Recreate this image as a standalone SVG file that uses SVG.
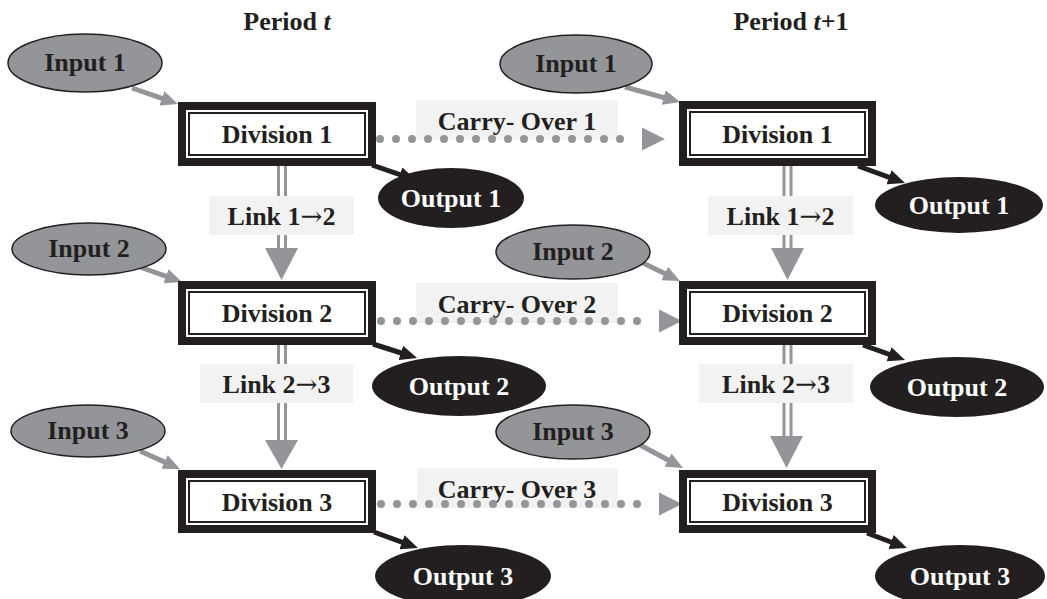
<svg xmlns="http://www.w3.org/2000/svg" width="1047" height="599" viewBox="0 0 1047 599">
  <defs>
    <style>
      text { font-family: "Liberation Serif", "Times New Roman", serif; font-weight: bold; font-size: 26px; text-anchor: middle; }
      .arrow { font-family: "DejaVu Serif", "Liberation Serif", serif; font-weight: normal; }
      .dark { fill: #231f20; }
      .light { fill: #ffffff; }
      .frame-outer { fill: #ffffff; stroke: #231f20; stroke-width: 8; }
      .frame-inner { fill: none; stroke: #231f20; stroke-width: 2; }
      .input { fill: #939598; stroke: #231f20; stroke-width: 1.5; }
      .output { fill: #231f20; }
      .feed { stroke: #939598; stroke-width: 5; fill: none; marker-end: url(#headGray); }
      .emit { stroke: #231f20; stroke-width: 5; fill: none; marker-end: url(#headDark); }
      .carry { stroke: #939598; stroke-width: 8; stroke-linecap: round; stroke-dasharray: 0 16; fill: none; marker-end: url(#headCarry); }
      .link { stroke: #939598; stroke-width: 3; fill: none; }
      .linkhead { fill: #939598; }
      .tag { fill: #f2f2f2; }
    </style>
    <marker id="headGray" markerUnits="userSpaceOnUse" markerWidth="17" markerHeight="15" refX="7" refY="7.5" orient="auto">
      <path d="M0,0 L17,7.5 L0,15 z" fill="#939598"/>
    </marker>
    <marker id="headDark" markerUnits="userSpaceOnUse" markerWidth="17" markerHeight="15" refX="7" refY="7.5" orient="auto">
      <path d="M0,0 L17,7.5 L0,15 z" fill="#231f20"/>
    </marker>
    <marker id="headCarry" markerUnits="userSpaceOnUse" markerWidth="24" markerHeight="23" refX="-6" refY="11.5" orient="auto" overflow="visible">
      <path d="M0,0 L23,11.5 L0,23 z" fill="#939598"/>
    </marker>
  </defs>

  <!-- column headings -->
  <text class="dark" x="287" y="30">Period <tspan font-style="italic">t</tspan></text>
  <text class="dark" x="791" y="30">Period <tspan font-style="italic">t</tspan>+1</text>

  <g id="connectors">
    <!-- inputs into divisions -->
    <path class="feed" d="M132,88 L168.5,100.7"/>
    <path class="feed" d="M140,267 L172.6,278.6"/>
    <path class="feed" d="M140,451 L170.9,464.9"/>
    <path class="feed" d="M625,87 L670.4,99.4"/>
    <path class="feed" d="M643,263 L671,276.6"/>
    <path class="feed" d="M640,445 L674.2,463.3"/>

    <!-- divisions to outputs -->
    <path class="emit" d="M372,165 L406.5,176.8"/>
    <path class="emit" d="M373,344 L407.5,355"/>
    <path class="emit" d="M374,532 L408.6,544.6"/>
    <path class="emit" d="M858,166 L895.6,179.6"/>
    <path class="emit" d="M863,345 L895.6,356.6"/>
    <path class="emit" d="M867,533 L897.6,544.5"/>

    <!-- links between divisions -->
    <g id="link-t-12">
      <line class="link" x1="278.5" y1="166" x2="278.5" y2="249"/>
      <line class="link" x1="285.5" y1="166" x2="285.5" y2="249"/>
      <polygon class="linkhead" points="265,248 298,248 281.5,280"/>
      <rect class="tag" x="209" y="196" width="145" height="39"/>
      <text class="dark" x="281.5" y="225">Link 1<tspan class="arrow">→</tspan>2</text>
    </g>
    <g id="link-t-23">
      <line class="link" x1="278.5" y1="345" x2="278.5" y2="441"/>
      <line class="link" x1="285.5" y1="345" x2="285.5" y2="441"/>
      <polygon class="linkhead" points="265,440 298,440 281.5,469"/>
      <rect class="tag" x="200" y="364" width="153" height="39"/>
      <text class="dark" x="276.5" y="393">Link 2<tspan class="arrow">→</tspan>3</text>
    </g>
    <g id="link-t1-12">
      <line class="link" x1="784" y1="166" x2="784" y2="249"/>
      <line class="link" x1="791" y1="166" x2="791" y2="249"/>
      <polygon class="linkhead" points="771,248 804,248 787.5,280"/>
      <rect class="tag" x="708" y="196" width="145" height="39"/>
      <text class="dark" x="780.5" y="225">Link 1<tspan class="arrow">→</tspan>2</text>
    </g>
    <g id="link-t1-23">
      <line class="link" x1="784" y1="345" x2="784" y2="437"/>
      <line class="link" x1="791" y1="345" x2="791" y2="437"/>
      <polygon class="linkhead" points="770,436 803,436 786.5,468"/>
      <rect class="tag" x="699" y="364" width="154" height="39"/>
      <text class="dark" x="776" y="393">Link 2<tspan class="arrow">→</tspan>3</text>
    </g>

    <!-- carry-over between periods -->
    <rect class="tag" x="416" y="100" width="202" height="40"/>
    <text class="dark" x="517" y="130">Carry- Over 1</text>
    <path class="carry" d="M380,139 L636,139"/>

    <rect class="tag" x="416" y="283" width="202" height="40"/>
    <text class="dark" x="517" y="313">Carry- Over 2</text>
    <path class="carry" d="M381,321 L653,321"/>

    <rect class="tag" x="417" y="468" width="201" height="40"/>
    <text class="dark" x="517" y="498">Carry- Over 3</text>
    <path class="carry" d="M381,504 L653,504"/>
  </g>

  <!-- period t -->
  <g id="input-1-t"><ellipse class="input" cx="85" cy="63" rx="77" ry="29"/><text class="dark" x="85" y="71">Input 1</text></g>
  <g id="input-2-t"><ellipse class="input" cx="89" cy="249" rx="77" ry="26"/><text class="dark" x="89" y="257">Input 2</text></g>
  <g id="input-3-t"><ellipse class="input" cx="88" cy="431" rx="77" ry="26"/><text class="dark" x="88" y="439">Input 3</text></g>

  <g id="division-1-t"><rect class="frame-outer" x="182" y="106" width="190" height="56"/><rect class="frame-inner" x="189" y="113" width="176" height="42"/><text class="dark" x="277" y="143">Division 1</text></g>
  <g id="division-2-t"><rect class="frame-outer" x="182" y="285" width="190" height="56"/><rect class="frame-inner" x="189" y="292" width="176" height="42"/><text class="dark" x="277" y="322">Division 2</text></g>
  <g id="division-3-t"><rect class="frame-outer" x="182" y="474" width="190" height="55"/><rect class="frame-inner" x="189" y="481" width="176" height="41"/><text class="dark" x="277" y="511">Division 3</text></g>

  <g id="output-1-t"><ellipse class="output" cx="451" cy="198" rx="73" ry="30"/><text class="light" x="451" y="207">Output 1</text></g>
  <g id="output-2-t"><ellipse class="output" cx="459" cy="386" rx="87" ry="30"/><text class="light" x="459" y="395">Output 2</text></g>
  <g id="output-3-t"><ellipse class="output" cx="463" cy="576" rx="88" ry="31"/><text class="light" x="463" y="585">Output 3</text></g>

  <!-- period t+1 -->
  <g id="input-1-t1"><ellipse class="input" cx="576" cy="64" rx="76" ry="29"/><text class="dark" x="576" y="72">Input 1</text></g>
  <g id="input-2-t1"><ellipse class="input" cx="573" cy="252" rx="77" ry="27"/><text class="dark" x="573" y="260">Input 2</text></g>
  <g id="input-3-t1"><ellipse class="input" cx="573" cy="432" rx="77" ry="27"/><text class="dark" x="573" y="440">Input 3</text></g>

  <g id="division-1-t1"><rect class="frame-outer" x="683" y="105" width="189" height="57"/><rect class="frame-inner" x="690" y="112" width="175" height="43"/><text class="dark" x="777.5" y="143">Division 1</text></g>
  <g id="division-2-t1"><rect class="frame-outer" x="683" y="285" width="189" height="56"/><rect class="frame-inner" x="690" y="292" width="175" height="42"/><text class="dark" x="777.5" y="322">Division 2</text></g>
  <g id="division-3-t1"><rect class="frame-outer" x="683" y="474" width="189" height="55"/><rect class="frame-inner" x="690" y="481" width="175" height="41"/><text class="dark" x="777.5" y="511">Division 3</text></g>

  <g id="output-1-t1"><ellipse class="output" cx="959" cy="205" rx="84" ry="28"/><text class="light" x="959" y="214">Output 1</text></g>
  <g id="output-2-t1"><ellipse class="output" cx="957" cy="387" rx="87" ry="30"/><text class="light" x="957" y="396">Output 2</text></g>
  <g id="output-3-t1"><ellipse class="output" cx="960" cy="576" rx="85" ry="31"/><text class="light" x="960" y="585">Output 3</text></g>
</svg>
